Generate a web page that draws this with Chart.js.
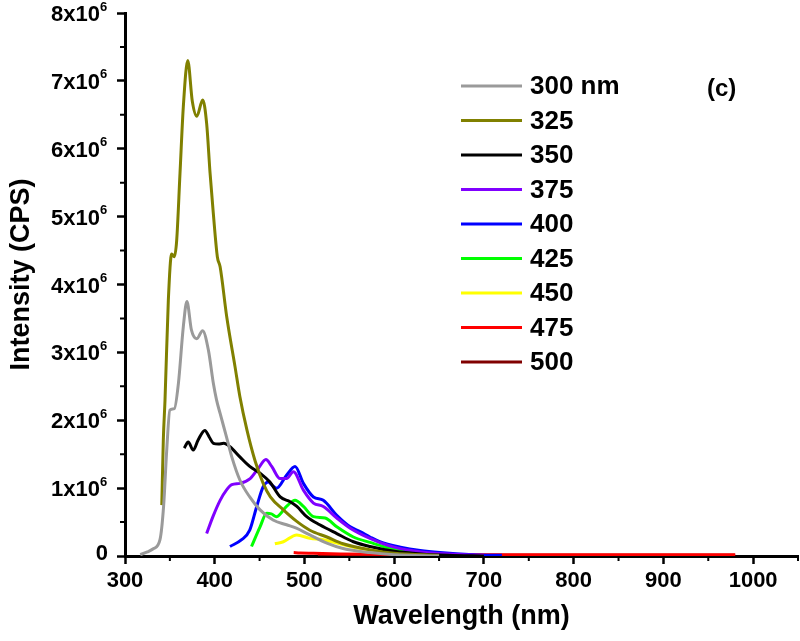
<!DOCTYPE html>
<html>
<head>
<meta charset="utf-8">
<script src="https://cdn.jsdelivr.net/npm/chart.js@4.4.1/dist/chart.umd.min.js"></script>
<style>
  html, body { margin: 0; padding: 0; background: #ffffff; }
  #wrap { width: 800px; height: 641px; position: relative; }
</style>
</head>
<body>
<div id="wrap"><canvas id="c" width="800" height="641"></canvas></div>
<script>
// ---- Data (intensity in units of 10^6 CPS, wavelength in nm) ----
const seriesLabels = ['300 nm', '325', '350', '375', '400', '425', '450', '475', '500'];
const seriesColors = ['#9a9a9a', '#808000', '#000000', '#8000ff', '#0000ff', '#00ff00', '#ffff00', '#ff0000', '#800000'];

const wl300 = [317, 325, 332, 339, 343, 346.5, 350, 355, 359.5, 365, 369, 374, 380, 386.5, 393, 398.5, 402, 406, 413, 419, 428, 439, 450.5, 465, 480, 491, 506, 525, 543, 573, 600, 650];
const in300 = [0.02, 0.06, 0.11, 0.24, 0.73, 1.56, 2.15, 2.17, 2.54, 3.38, 3.75, 3.33, 3.2, 3.32, 3.03, 2.54, 2.3, 2.1, 1.76, 1.46, 1.12, 0.87, 0.68, 0.53, 0.46, 0.41, 0.31, 0.19, 0.11, 0.05, 0.02, 0];

const wl325 = [341, 342.7, 344.6, 348.3, 352, 355, 357.6, 361.3, 365, 369.9, 375, 380, 386.6, 391, 394.8, 398.4, 402.9, 406, 413.4, 422.6, 428, 436, 445, 454, 462, 476.5, 491.4, 506, 525, 543, 573, 600, 650];
const in325 = [0.75, 1.71, 2.3, 3.77, 4.45, 4.41, 4.65, 5.64, 6.62, 7.3, 6.7, 6.48, 6.72, 6.37, 5.64, 5.05, 4.41, 4.26, 3.52, 2.79, 2.35, 1.85, 1.4, 1.07, 0.87, 0.68, 0.51, 0.38, 0.28, 0.18, 0.09, 0.04, 0.01];

const wl350 = [366, 370.5, 376, 381.5, 389, 394, 398.5, 404, 410, 417, 428, 439, 450.5, 461.5, 473, 484, 491.5, 502.5, 517, 536, 554.5, 573, 600, 630, 660, 700];
const in350 = [1.59, 1.68, 1.56, 1.71, 1.85, 1.75, 1.66, 1.65, 1.66, 1.61, 1.46, 1.32, 1.22, 1.09, 0.87, 0.8, 0.73, 0.58, 0.46, 0.33, 0.21, 0.14, 0.07, 0.03, 0.01, 0];

const wl375 = [391, 398, 406, 413, 419, 428, 439.5, 448.5, 457, 463.5, 472.8, 480, 487.6, 498.8, 510, 521, 536, 551, 573, 600, 630, 660, 700];
const in375 = [0.33, 0.58, 0.82, 0.97, 1.05, 1.07, 1.14, 1.29, 1.42, 1.32, 1.14, 1.14, 1.24, 0.97, 0.78, 0.73, 0.56, 0.41, 0.26, 0.13, 0.06, 0.03, 0.01];

const wl400 = [417, 430, 439, 446.8, 454, 459.8, 464, 469, 480, 489.5, 498.8, 510, 521, 536, 551, 562, 573, 584, 607, 629, 651, 688, 720];
const in400 = [0.14, 0.24, 0.38, 0.73, 1.02, 1.09, 1.04, 1.0, 1.19, 1.32, 1.07, 0.87, 0.82, 0.6, 0.43, 0.36, 0.28, 0.21, 0.13, 0.08, 0.05, 0.02, 0.01];

const wl425 = [441, 450.5, 458, 463, 469, 480, 489.5, 498.8, 510, 523, 536, 554.5, 573, 600, 630, 660, 700];
const in425 = [0.14, 0.43, 0.63, 0.62, 0.58, 0.73, 0.82, 0.73, 0.58, 0.56, 0.43, 0.28, 0.2, 0.1, 0.05, 0.02, 0];

const wl450 = [467, 476.5, 491.4, 506, 521, 536, 554.5, 573, 600, 630, 680];
const in450 = [0.18, 0.21, 0.31, 0.26, 0.24, 0.19, 0.13, 0.09, 0.05, 0.02, 0];

const wl475 = [488, 495, 510, 540, 600, 700, 800, 900, 980];
const in475 = [0.05, 0.045, 0.04, 0.03, 0.025, 0.02, 0.02, 0.02, 0.02];

const wl500 = [515, 540, 600, 700, 800, 900, 980];
const in500 = [0.015, 0.015, 0.012, 0.01, 0.01, 0.01, 0.01];

const xTicks = [300, 400, 500, 600, 700, 800, 900, 1000];
const xMinorTicks = [350, 450, 550, 650, 750, 850, 950, 1050];
const yTicks = [0, 1, 2, 3, 4, 5, 6, 7, 8];
const yMinorTicks = [0.5, 1.5, 2.5, 3.5, 4.5, 5.5, 6.5, 7.5];
const yTickBase = 'x10';
const yTickExponent = '6';

const xTitle = 'Wavelength (nm)';
const yTitle = 'Intensity (CPS)';
const panelLabel = '(c)';

// ---- Build datasets ----
const wls = [wl300, wl325, wl350, wl375, wl400, wl425, wl450, wl475, wl500];
const ins = [in300, in325, in350, in375, in400, in425, in450, in475, in500];

const datasets = seriesLabels.map((lab, i) => ({
  label: lab,
  data: wls[i].map((w, k) => ({ x: w, y: ins[i][k] })),
  borderColor: seriesColors[i],
  backgroundColor: seriesColors[i],
  borderWidth: 3,
  pointRadius: 0,
  cubicInterpolationMode: 'monotone',
  fill: false
}));

const FONT = "'Liberation Sans', Arial, sans-serif";

const axisDecorPlugin = {
  id: 'axisDecor',
  afterDraw(chart) {
    const ctx = chart.ctx;
    const xs = chart.scales.x, ys = chart.scales.y;
    const ca = chart.chartArea;
    ctx.save();
    // minor ticks
    ctx.strokeStyle = '#000';
    ctx.lineWidth = 2;
    ctx.beginPath();
    xMinorTicks.forEach(v => {
      const px = xs.getPixelForValue(v);
      ctx.moveTo(px, ca.bottom);
      ctx.lineTo(px, ca.bottom + 5);
    });
    yMinorTicks.forEach(v => {
      const py = ys.getPixelForValue(v);
      ctx.moveTo(ca.left, py);
      ctx.lineTo(ca.left - 5, py);
    });
    ctx.stroke();
    // y tick labels with superscript exponent
    ctx.fillStyle = '#000';
    ctx.textBaseline = 'middle';
    yTicks.forEach(v => {
      const py = ys.getPixelForValue(v);
      if (v === 0) {
        ctx.font = "bold 22px " + FONT;
        ctx.textAlign = 'right';
        ctx.fillText('0', ca.left - 17, py - 2);
      } else {
        ctx.font = "bold 22px " + FONT;
        ctx.textAlign = 'right';
        ctx.fillText(v + yTickBase, ca.left - 25, py + 2);
        ctx.font = "bold 13px " + FONT;
        ctx.textAlign = 'left';
        ctx.fillText(yTickExponent, ca.left - 25, py - 6);
      }
    });
    // y axis title
    ctx.save();
    ctx.translate(22, (ca.top + ca.bottom) / 2 - 10);
    ctx.rotate(-Math.PI / 2);
    ctx.font = "bold 27px " + FONT;
    ctx.textAlign = 'center';
    ctx.textBaseline = 'middle';
    ctx.fillText(yTitle, 0, 0);
    ctx.restore();
    ctx.restore();
  }
};

const legendPlugin = {
  id: 'customLegend',
  afterDraw(chart) {
    const ctx = chart.ctx;
    ctx.save();
    const x0 = 461, x1 = 522, tx = 530, y0 = 86, dy = 34.5;
    chart.data.datasets.forEach((ds, i) => {
      const y = y0 + i * dy;
      ctx.strokeStyle = ds.borderColor;
      ctx.lineWidth = 3;
      ctx.beginPath();
      ctx.moveTo(x0, y);
      ctx.lineTo(x1, y);
      ctx.stroke();
      ctx.fillStyle = '#000';
      ctx.font = "bold 26px " + FONT;
      ctx.textBaseline = 'middle';
      ctx.textAlign = 'left';
      ctx.fillText(ds.label, tx, y + 1);
    });
    ctx.font = "bold 24px " + FONT;
    ctx.textBaseline = 'middle';
    ctx.fillText(panelLabel, 707, 89);
    ctx.restore();
  }
};

new Chart(document.getElementById('c'), {
  type: 'line',
  data: { datasets },
  options: {
    responsive: false,
    animation: false,
    devicePixelRatio: 1,
    layout: { padding: { top: 13, right: 2, left: 0, bottom: 0 } },
    plugins: { legend: { display: false }, tooltip: { enabled: false } },
    scales: {
      x: {
        type: 'linear',
        min: 300,
        max: 1050,
        afterBuildTicks: (s) => { s.ticks = xTicks.map(v => ({ value: v })); },
        afterFit: (s) => { s.height = 85; },
        border: { display: true, color: '#000', width: 3 },
        grid: { drawOnChartArea: false, drawTicks: true, tickLength: 8, tickWidth: 2.5, tickColor: '#000' },
        ticks: { color: '#000', padding: 4, maxRotation: 0, font: { family: FONT, size: 22, weight: 'bold' },
                 callback: (v) => String(v) },
        title: { display: true, text: xTitle, color: '#000', padding: { top: 6, bottom: 8 }, font: { family: FONT, size: 27, weight: 'bold' } }
      },
      y: {
        type: 'linear',
        min: 0,
        max: 8,
        afterBuildTicks: (s) => { s.ticks = yTicks.map(v => ({ value: v })); },
        afterFit: (s) => { s.width = 125; },
        border: { display: true, color: '#000', width: 3 },
        grid: { drawOnChartArea: false, drawTicks: true, tickLength: 8, tickWidth: 2.5, tickColor: '#000' },
        ticks: { display: false },
        title: { display: false, text: yTitle }
      }
    }
  },
  plugins: [axisDecorPlugin, legendPlugin]
});
</script>
</body>
</html>
